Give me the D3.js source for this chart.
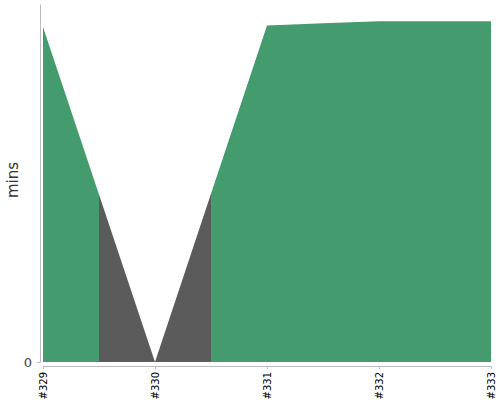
<!DOCTYPE html>
<html>
<head>
<meta charset="utf-8">
<script src="https://cdn.jsdelivr.net/npm/d3@7"></script>
<style>
  body { margin: 0; background: #fff; }
  text { font-family: "DejaVu Sans", sans-serif; }
</style>
</head>
<body>
<div id="chart"></div>
<script>
const builds = ["#329", "#330", "#331", "#332", "#333"];
const durations = [46.8, 0, 47.0, 47.6, 47.6];
const results = ["pass", "fail", "pass", "pass", "pass"];

const colors = { pass: "#449c6e", fail: "#5b5b5b" };

const width = 500;
const height = 400;
const margin = { top: 4, right: 9, bottom: 38, left: 43 };

const x = d3.scalePoint()
  .domain(builds)
  .range([margin.left, width - margin.right]);

const y = d3.scaleLinear()
  .domain([0, 50])
  .range([height - margin.bottom, margin.top]);

const svg = d3.select("#chart")
  .append("svg")
  .attr("width", width)
  .attr("height", height);

const data = builds.map((b, i) => ({ build: b, value: durations[i], result: results[i] }));

const area = d3.area()
  .x(d => x(d.build))
  .y0(y(0))
  .y1(d => y(d.value));

// each build owns the band halfway to its neighbours
const step = x.step();
data.forEach((d, i) => {
  const x0 = Math.max(margin.left, x(d.build) - step / 2);
  const x1 = Math.min(width - margin.right, x(d.build) + step / 2);

  svg.append("clipPath")
    .attr("id", "band" + i)
    .append("rect")
    .attr("x", x0)
    .attr("y", 0)
    .attr("width", x1 - x0)
    .attr("height", height);

  svg.append("path")
    .datum(data)
    .attr("clip-path", `url(#band${i})`)
    .attr("fill", colors[d.result])
    .attr("d", area);
});

// y axis
const yAxis = svg.append("g")
  .attr("transform", `translate(${margin.left - 3},0)`)
  .call(d3.axisLeft(y).tickValues([0]).tickSize(3).tickPadding(5).tickSizeOuter(0));
yAxis.select(".domain").attr("stroke", "#bbb");
yAxis.selectAll(".tick line").attr("stroke", "#bbb");
yAxis.selectAll(".tick text")
  .attr("font-size", "13px")
  .attr("fill", "#444")
  .attr("font-family", "Liberation Sans, sans-serif");

svg.append("text")
  .attr("transform", "translate(18,180) rotate(-90)")
  .attr("text-anchor", "middle")
  .attr("font-size", "15px")
  .attr("fill", "#333")
  .text("mins");

// x axis
const xAxis = svg.append("g")
  .attr("transform", `translate(0,${height - margin.bottom + 4})`)
  .call(d3.axisBottom(x).tickSize(3).tickSizeOuter(0));
xAxis.select(".domain").attr("stroke", "#bbb");
xAxis.selectAll(".tick line").attr("stroke", "#bbb");
xAxis.selectAll(".tick text")
  .attr("font-size", "10px")
  .attr("fill", "#000")
  .attr("font-family", "DejaVu Sans, sans-serif")
  .attr("text-anchor", "end")
  .attr("transform", "rotate(-90)")
  .attr("x", -6)
  .attr("y", 0)
  .attr("dy", "0.35em");
</script>
</body>
</html>
